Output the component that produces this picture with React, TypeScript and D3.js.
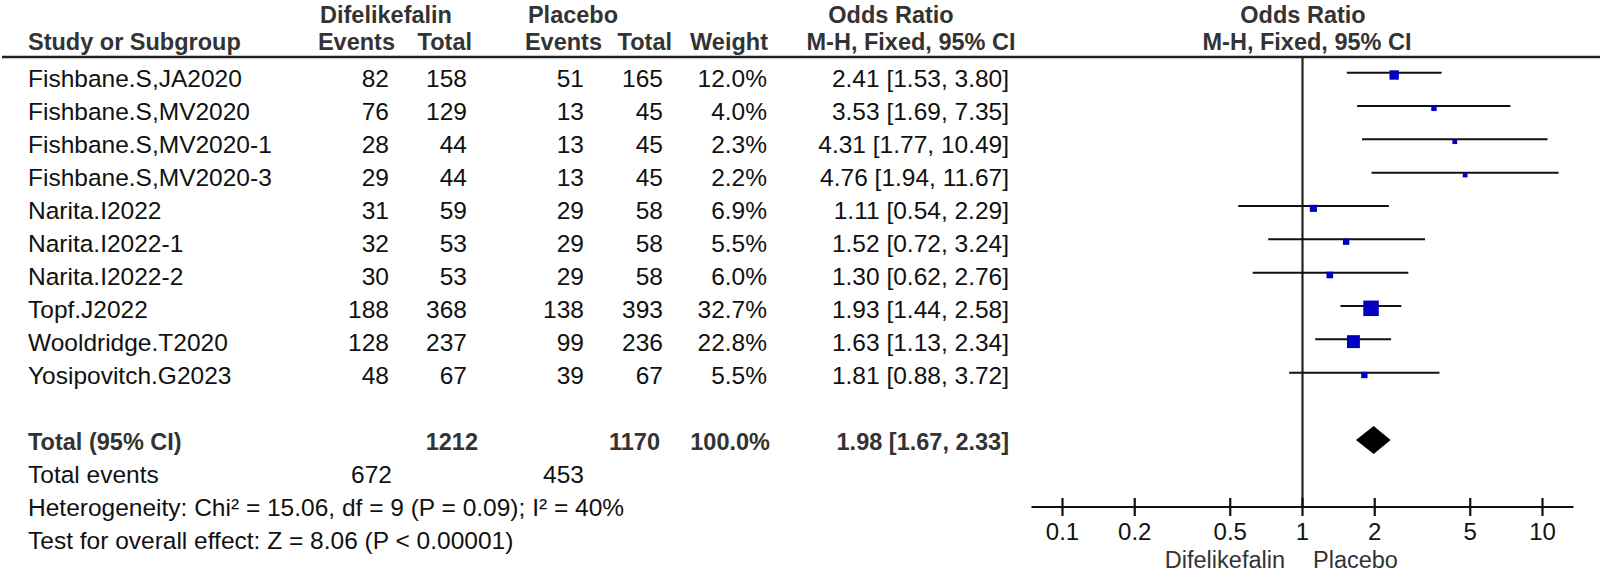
import React from "react";
import * as d3 from "d3";

const studies = [
  "Fishbane.S,JA2020",
  "Fishbane.S,MV2020",
  "Fishbane.S,MV2020-1",
  "Fishbane.S,MV2020-3",
  "Narita.I2022",
  "Narita.I2022-1",
  "Narita.I2022-2",
  "Topf.J2022",
  "Wooldridge.T2020",
  "Yosipovitch.G2023",
];
const difEvents = [82, 76, 28, 29, 31, 32, 30, 188, 128, 48];
const difTotal = [158, 129, 44, 44, 59, 53, 53, 368, 237, 67];
const plaEvents = [51, 13, 13, 13, 29, 29, 29, 138, 99, 39];
const plaTotal = [165, 45, 45, 45, 58, 58, 58, 393, 236, 67];
const weights = [12.0, 4.0, 2.3, 2.2, 6.9, 5.5, 6.0, 32.7, 22.8, 5.5];
const orValues = [2.41, 3.53, 4.31, 4.76, 1.11, 1.52, 1.3, 1.93, 1.63, 1.81];
const ciLow = [1.53, 1.69, 1.77, 1.94, 0.54, 0.72, 0.62, 1.44, 1.13, 0.88];
const ciHigh = [3.8, 7.35, 10.49, 11.67, 2.29, 3.24, 2.76, 2.58, 2.34, 3.72];
const totalOR = [1.98, 1.67, 2.33];
const totalParticipants = [1212, 1170];
const totalWeight = "100.0%";
const totalEventCounts = [672, 453];
const heterogeneityText = "Heterogeneity: Chi² = 15.06, df = 9 (P = 0.09); I² = 40%";
const overallText = "Test for overall effect: Z = 8.06 (P < 0.00001)";
const axisTicks = [0.1, 0.2, 0.5, 1, 2, 5, 10];
const axisTickLabels = ["0.1", "0.2", "0.5", "1", "2", "5", "10"];
const favourLeft = "Difelikefalin";
const favourRight = "Placebo";

const FONT = "'Liberation Sans', Arial, Helvetica, sans-serif";
const FS = 24.5;
const FSB = 23.5;

const fmtCI = (o: number, l: number, h: number) =>
  `${o.toFixed(2)} [${l.toFixed(2)}, ${h.toFixed(2)}]`;

export default function App() {
  const W = 1600;
  const H = 574;
  const x = d3.scaleLog().domain([0.1, 10]).range([1062.5, 1542.5]);
  const row = d3.scaleLinear().domain([0, 14]).range([79, 79 + 33 * 14]);
  const ciRow = d3.scaleLinear().domain([0, 9]).range([72.7, 72.7 + 33.33 * 9]);
  const base = (i: number) => row(i) + 8;
  const axisY = 507;
  const size = d3.scaleSqrt().domain([0, 32.7]).range([0, 15.5]);

  const cols = {
    difE: 389,
    difT: 467,
    plaE: 584,
    plaT: 663,
    weight: 767,
    or: 1009,
  };

  const textProps = { fontFamily: FONT, fontSize: FS, fill: "#111" };
  const boldProps = { fontFamily: FONT, fontSize: FSB, fill: "#333", fontWeight: 700 };

  return (
    <svg
      width={W}
      height={H}
      viewBox={`0 0 ${W} ${H}`}
      style={{ position: "absolute", left: 0, top: 0, background: "#fff", display: "block" }}
    >
      <rect x={0} y={0} width={W} height={H} fill="#fff" />
      {/* Header row 1 */}
      <text {...boldProps} x={386} y={23} textAnchor="middle">Difelikefalin</text>
      <text {...boldProps} x={573} y={23} textAnchor="middle">Placebo</text>
      <text {...boldProps} x={891} y={23} textAnchor="middle">Odds Ratio</text>
      <text {...boldProps} x={1303} y={23} textAnchor="middle">Odds Ratio</text>
      {/* Header row 2 */}
      <text {...boldProps} x={28} y={50}>Study or Subgroup</text>
      <text {...boldProps} x={395} y={50} textAnchor="end">Events</text>
      <text {...boldProps} x={472} y={50} textAnchor="end">Total</text>
      <text {...boldProps} x={602} y={50} textAnchor="end">Events</text>
      <text {...boldProps} x={672} y={50} textAnchor="end">Total</text>
      <text {...boldProps} x={768} y={50} textAnchor="end">Weight</text>
      <text {...boldProps} x={911} y={50} textAnchor="middle">M-H, Fixed, 95% CI</text>
      <text {...boldProps} x={1307} y={50} textAnchor="middle">M-H, Fixed, 95% CI</text>
      <line x1={2} x2={1600} y1={57} y2={57} stroke="#222" strokeWidth={2.5} />

      {/* Study rows */}
      {studies.map((s, i) => (
        <g key={s}>
          <text {...textProps} x={28} y={base(i)}>{s}</text>
          <text {...textProps} x={cols.difE} y={base(i)} textAnchor="end">{difEvents[i]}</text>
          <text {...textProps} x={cols.difT} y={base(i)} textAnchor="end">{difTotal[i]}</text>
          <text {...textProps} x={cols.plaE} y={base(i)} textAnchor="end">{plaEvents[i]}</text>
          <text {...textProps} x={cols.plaT} y={base(i)} textAnchor="end">{plaTotal[i]}</text>
          <text {...textProps} x={cols.weight} y={base(i)} textAnchor="end">{weights[i].toFixed(1)}%</text>
          <text {...textProps} x={cols.or} y={base(i)} textAnchor="end">
            {fmtCI(orValues[i], ciLow[i], ciHigh[i])}
          </text>
        </g>
      ))}

      {/* Totals */}
      <text {...boldProps} x={28} y={base(11)}>Total (95% CI)</text>
      <text {...boldProps} x={478} y={base(11)} textAnchor="end">{totalParticipants[0]}</text>
      <text {...boldProps} x={660} y={base(11)} textAnchor="end">{totalParticipants[1]}</text>
      <text {...boldProps} x={770} y={base(11)} textAnchor="end">{totalWeight}</text>
      <text {...boldProps} x={cols.or} y={base(11)} textAnchor="end">
        {fmtCI(totalOR[0], totalOR[1], totalOR[2])}
      </text>
      <text {...textProps} x={28} y={base(12)}>Total events</text>
      <text {...textProps} x={392} y={base(12)} textAnchor="end">{totalEventCounts[0]}</text>
      <text {...textProps} x={584} y={base(12)} textAnchor="end">{totalEventCounts[1]}</text>
      <text {...textProps} x={28} y={base(13)}>{heterogeneityText}</text>
      <text {...textProps} x={28} y={base(14)}>{overallText}</text>

      {/* Forest plot */}
      <line x1={x(1)} x2={x(1)} y1={57} y2={axisY} stroke="#222" strokeWidth={2.2} />
      {studies.map((s, i) => {
        const sz = Math.max(4.8, size(weights[i]));
        return (
          <g key={"f" + s}>
            <line x1={x(ciLow[i])} x2={x(ciHigh[i])} y1={ciRow(i)} y2={ciRow(i)} stroke="#111" strokeWidth={2} />
            <rect
              x={x(orValues[i]) - sz / 2}
              y={ciRow(i) + 2.3 - sz / 2}
              width={sz}
              height={sz}
              fill="#0000c0"
            />
          </g>
        );
      })}
      {(() => {
        const cy = 440;
        const hh = 14;
        const d = `M${x(totalOR[1])},${cy} L${x(totalOR[0])},${cy - hh} L${x(totalOR[2])},${cy} L${x(totalOR[0])},${cy + hh} Z`;
        return <path d={d} fill="#000" />;
      })()}

      {/* Axis */}
      <line x1={x(0.1) - 31} x2={x(10) + 31} y1={axisY} y2={axisY} stroke="#111" strokeWidth={2.2} />
      {axisTicks.map((t, i) => (
        <g key={"t" + t}>
          <line x1={x(t)} x2={x(t)} y1={axisY - 9} y2={axisY + 9} stroke="#111" strokeWidth={2.2} />
          <text {...textProps} fontSize={24} x={x(t)} y={540} textAnchor="middle">{axisTickLabels[i]}</text>
        </g>
      ))}
      <text {...textProps} fontSize={23.5} fill="#333" x={1285} y={568} textAnchor="end">{favourLeft}</text>
      <text {...textProps} fontSize={23.5} fill="#333" x={1313} y={568}>{favourRight}</text>
    </svg>
  );
}
